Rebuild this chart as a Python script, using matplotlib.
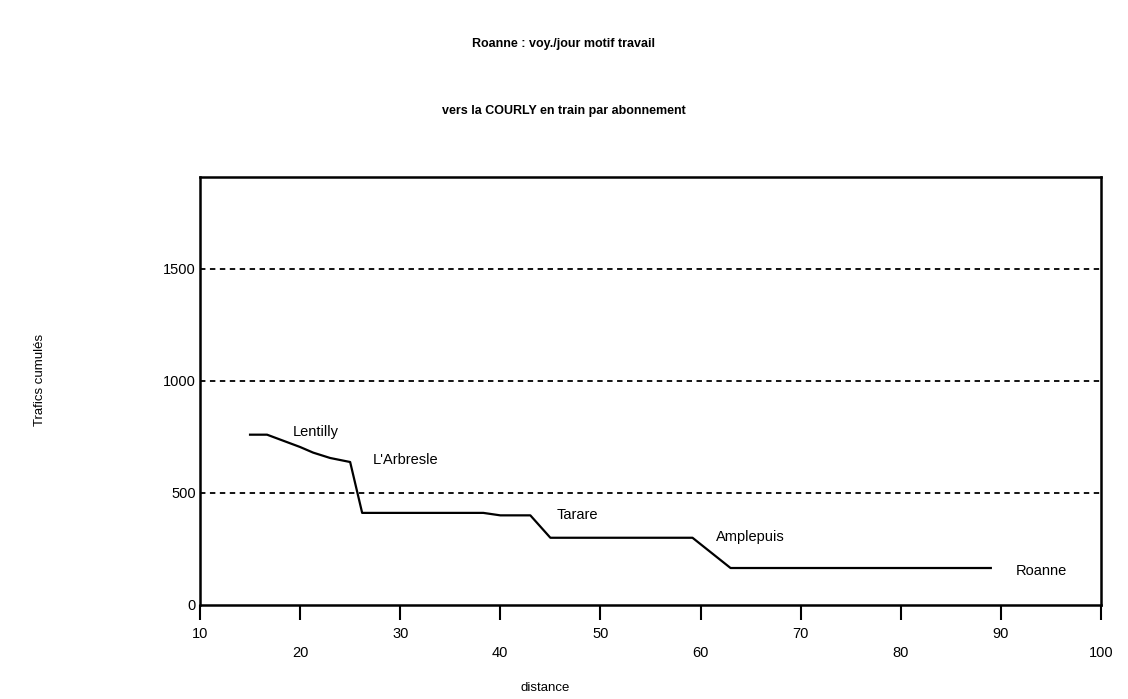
import matplotlib
matplotlib.use("Agg")
import matplotlib.pyplot as plt

plt.rcParams['font.family'] = ['Liberation Sans', 'DejaVu Sans']

# trafics cumulés le long de la ligne
distance = [15, 16.7, 20, 21.3, 23, 25, 26.2, 38.3, 40, 43, 45, 59.2, 63, 89]
trafic = [760, 760, 705, 680, 656, 638, 411, 411, 400, 400, 300, 300, 165, 165]

gares = ["Lentilly", "L'Arbresle", "Tarare", "Amplepuis", "Roanne"]
gares_x = [19.3, 27.3, 45.6, 61.5, 91.5]
gares_y = [770, 645, 400, 305, 152]

xticks = [10, 20, 30, 40, 50, 60, 70, 80, 90, 100]
yticks = [0, 500, 1000, 1500]

fig = plt.figure(figsize=(11.28, 6.99), dpi=100)
ax = fig.add_axes([0.1773, 0.1345, 0.7987, 0.6123])

for g in [500, 1000, 1500]:
    ax.axhline(g, color='black', linestyle=(0, (3, 2.5)), linewidth=1.3)

ax.plot(distance, trafic, color='black', linewidth=1.6)

for name, x, y in zip(gares, gares_x, gares_y):
    ax.text(x, y, name, fontsize=10.5, ha='left', va='center')

ax.set_xlim(10, 100)
ax.set_ylim(0, 1910)
ax.set_xticks(xticks)
ax.set_xticklabels([str(t) if i % 2 == 0 else "\n" + str(t) for i, t in enumerate(xticks)],
                   fontsize=10.5, linespacing=1.45)
ax.set_yticks(yticks)
ax.set_yticklabels([str(t) for t in yticks], fontsize=10.5)
ax.tick_params(axis='x', direction='out', length=11, width=1.5, pad=5)
ax.tick_params(axis='y', length=0, pad=3)
for s in ax.spines.values():
    s.set_linewidth(1.8)

fig.text(0.5, 1 - 44 / 699, "Roanne : voy./jour motif travail", ha='center', va='center',
         fontsize=9, fontweight='bold')
fig.text(0.5, 1 - 111 / 699, "vers la COURLY en train par abonnement", ha='center', va='center',
         fontsize=9, fontweight='bold')
fig.text(40 / 1128, 1 - 380 / 699, "Trafics cumulés", rotation=90, ha='center', va='center',
         fontsize=9.5)
fig.text(545 / 1128, 1 - 688 / 699, "distance", ha='center', va='center', fontsize=9.5)

plt.savefig("out.png", dpi=100)
